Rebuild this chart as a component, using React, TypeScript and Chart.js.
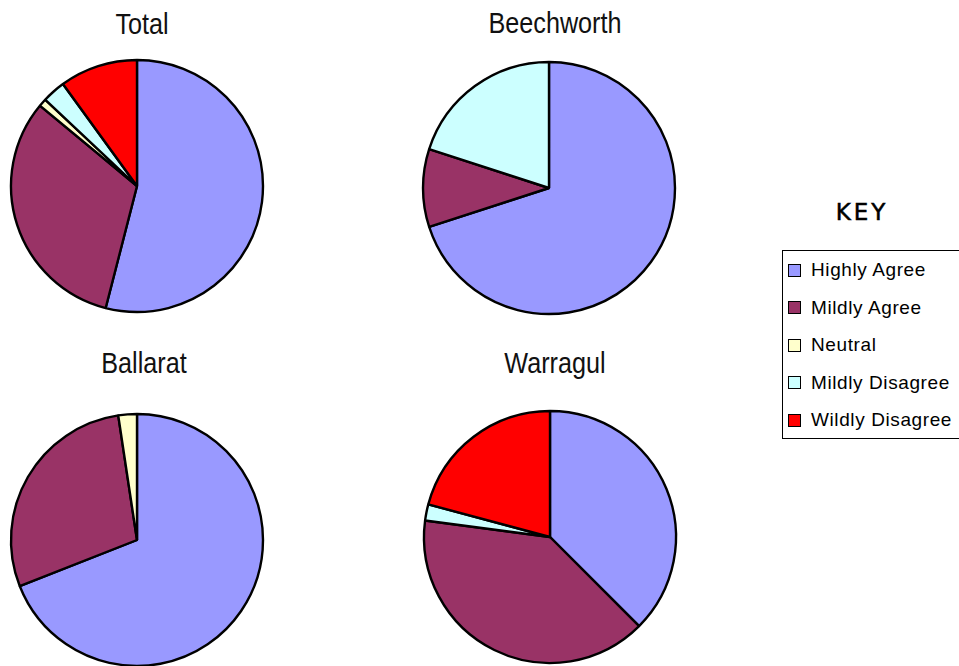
import React, { useEffect, useRef } from "react";
import { Chart, registerables } from "chart.js";

Chart.register(...registerables);

// Survey responses per category (number of respondents)
const CATEGORIES = ["Highly Agree", "Mildly Agree", "Neutral", "Mildly Disagree", "Wildly Disagree"];
const COLORS = ["#9999FF", "#993366", "#FFFFCC", "#CCFFFF", "#FF0000"];
const TOTAL = [54, 32, 1, 3, 10];
const BEECHWORTH = [7, 1, 0, 2, 0];
const BALLARAT = [29, 12, 1, 0, 0];
const WARRAGUL = [18, 19, 0, 1, 10];

const PIE_BOX = 270;
const PIE_RADIUS = 126;

type PieProps = { values: number[]; cx: number; cy: number };

function Pie({ values, cx, cy }: PieProps) {
  const ref = useRef<HTMLCanvasElement | null>(null);
  useEffect(() => {
    if (!ref.current) return;
    const chart = new Chart(ref.current, {
      type: "pie",
      data: {
        labels: CATEGORIES,
        datasets: [
          {
            data: values,
            backgroundColor: COLORS,
            borderColor: "#000000",
            borderWidth: 2.4,
            hoverOffset: 0,
          },
        ],
      },
      options: {
        animation: false,
        responsive: false,
        events: [],
        radius: PIE_RADIUS,
        layout: { padding: 0 },
        plugins: {
          legend: { display: false },
          tooltip: { enabled: false },
          title: { display: false },
        },
      },
    });
    return () => chart.destroy();
  }, [values]);
  return (
    <canvas
      ref={ref}
      width={PIE_BOX}
      height={PIE_BOX}
      style={{
        position: "absolute",
        left: cx - PIE_BOX / 2,
        top: cy - PIE_BOX / 2,
        width: PIE_BOX,
        height: PIE_BOX,
      }}
    />
  );
}

type TitleProps = { text: string; cx: number; baseline: number };

// Condensed sans title drawn above each pie
function Title({ text, cx, baseline }: TitleProps) {
  const size = 30;
  return (
    <div
      style={{
        position: "absolute",
        left: cx - 150,
        width: 300,
        top: baseline - Math.round(size * 0.86),
        textAlign: "center",
        fontFamily: "'Liberation Sans', Arial, sans-serif",
        fontSize: size,
        lineHeight: `${size}px`,
        color: "#111",
        whiteSpace: "nowrap",
        transform: "scaleX(0.84)",
        transformOrigin: "50% 50%",
      }}
    >
      {text}
    </div>
  );
}

function Key() {
  return (
    <>
      <div
        style={{
          position: "absolute",
          left: 800,
          width: 124,
          top: 200,
          textAlign: "center",
          fontFamily: "'DejaVu Sans', sans-serif",
          fontSize: 23,
          lineHeight: "24px",
          letterSpacing: 3,
          WebkitTextStroke: "0.5px #000",
          color: "#000",
        }}
      >
        KEY
      </div>
      <div
        style={{
          position: "absolute",
          left: 782,
          top: 250,
          width: 190,
          height: 189,
          border: "1px solid #000",
          boxSizing: "border-box",
          background: "#fff",
        }}
      >
        {CATEGORIES.map((name, i) => (
          <div
            key={name}
            style={{
              position: "absolute",
              left: 5,
              top: 7 + i * 37.5,
              height: 24,
              display: "flex",
              alignItems: "center",
              whiteSpace: "nowrap",
            }}
          >
            <span
              style={{
                display: "inline-block",
                width: 13,
                height: 13,
                boxSizing: "border-box",
                border: "1.5px solid #000",
                background: COLORS[i],
                marginRight: 10,
              }}
            />
            <span
              style={{
                fontFamily: "'Liberation Sans', Arial, sans-serif",
                fontSize: 19,
                letterSpacing: 0.6,
                color: "#000",
              }}
            >
              {name}
            </span>
          </div>
        ))}
      </div>
    </>
  );
}

export default function App() {
  return (
    <div
      style={{
        position: "absolute",
        left: 0,
        top: 0,
        width: 959,
        height: 666,
        overflow: "hidden",
        background: "#fff",
      }}
    >
      <Title text="Total" cx={142} baseline={35} />
      <Title text="Beechworth" cx={555} baseline={34} />
      <Title text="Ballarat" cx={144} baseline={374} />
      <Title text="Warragul" cx={555} baseline={374} />
      <Pie values={TOTAL} cx={137} cy={186} />
      <Pie values={BEECHWORTH} cx={549} cy={188} />
      <Pie values={BALLARAT} cx={137} cy={540} />
      <Pie values={WARRAGUL} cx={550} cy={537} />
      <Key />
    </div>
  );
}
